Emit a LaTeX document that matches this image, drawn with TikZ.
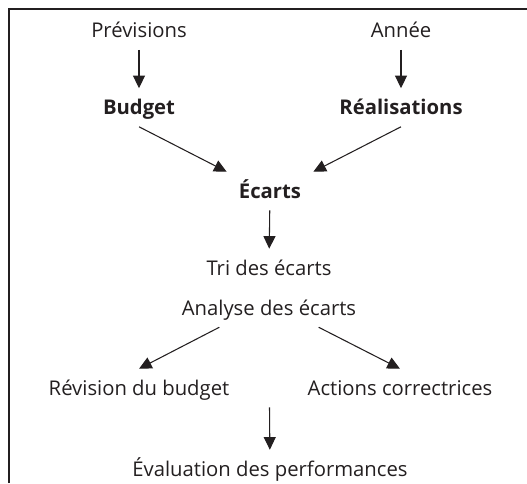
\documentclass[tikz,border=0pt]{standalone}
\usepackage{fontspec}
\setmainfont{Open Sans}
\usepackage{tikz}
\usetikzlibrary{arrows.meta,calc}
\definecolor{ink}{HTML}{231F20}
\tikzset{
  lbl/.style={font=\fontsize{15.2}{18}\selectfont,text=ink,anchor=base,inner xsep=9pt,inner ysep=9pt,text height=10.5pt,text depth=0pt},
  key/.style={lbl,font=\fontsize{15.2}{18}\selectfont\bfseries},
  flow/.style={-{Triangle[length=9.5pt,width=9pt]},line width=0.8pt,draw=ink},
  frame/.style={draw=ink,line width=1.1pt}
}
\begin{document}
\begin{tikzpicture}[x=0.75pt,y=-0.75pt]
  \useasboundingbox (0,0) rectangle (527,483);
  \draw[frame] (9,483) -- (9,9) -- (527,9);

  \node[lbl] (prev) at (139,37.7) {Prévisions};
  \node[lbl] (annee) at (401,37.7) {Année};
  \node[key] (budget) at (139,114.5) {Budget};
  \node[key] (realis) at (401,114.5) {Réalisations};
  \node[key] (ecarts) at (270,198) {Écarts};
  \node[lbl] (tri) at (269,275) {Tri des écarts};
  \node[lbl] (analyse) at (269,315) {Analyse des écarts};
  \node[lbl] (revision) at (139,395) {Révision du budget};
  \node[lbl] (actions) at (400,395) {Actions correctrices};
  \node[lbl] (evaluation) at (270,476) {Évaluation des performances};
  \coordinate (joint) at ($(revision.south)!.5!(actions.south)$);

  \foreach \a/\b in {prev/budget,annee/realis,ecarts/tri,joint/evaluation} \draw[flow] (\a) -- (\b);
  \draw[flow] (budget.south) -- (ecarts.north west);
  \draw[flow] (realis.south) -- (ecarts.north east);
  \draw[flow] ($(analyse.south west)!.5!(analyse.south)$) -- (revision.north);
  \draw[flow] ($(analyse.south east)!.5!(analyse.south)$) -- (actions.north);
\end{tikzpicture}
\end{document}
